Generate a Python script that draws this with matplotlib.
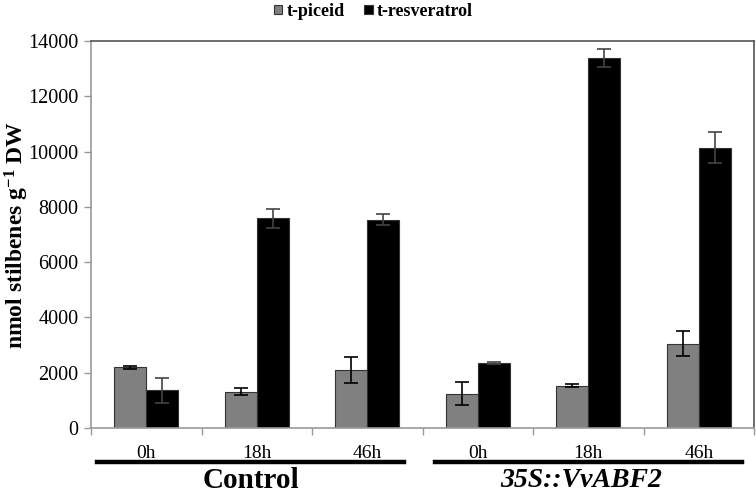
import matplotlib
matplotlib.use("Agg")
import matplotlib.pyplot as plt
import matplotlib.transforms as mtransforms
import numpy as np

timepoints = ["0h", "18h", "46h", "0h", "18h", "46h"]
groups = ["Control", "35S::VvABF2"]
series_names = ["t-piceid", "t-resveratrol"]
piceid = [2190, 1310, 2100, 1240, 1530, 3050]
piceid_err = [50, 130, 480, 410, 50, 450]
resveratrol = [1360, 7580, 7540, 2350, 13390, 10140]
resveratrol_err = [460, 335, 200, 30, 325, 570]
yticks = [0, 2000, 4000, 6000, 8000, 10000, 12000, 14000]

plt.rcParams['font.family'] = ['Liberation Serif', 'DejaVu Serif']
plt.rcParams['mathtext.fontset'] = 'custom'
plt.rcParams['mathtext.rm'] = 'Liberation Serif:bold'
plt.rcParams['mathtext.bf'] = 'Liberation Serif:bold'
plt.rcParams['mathtext.it'] = 'Liberation Serif:italic'
fig = plt.figure(figsize=(7.56, 4.94), dpi=100)
ax = fig.add_axes([0.1204, 0.1336, 0.877, 0.7834])

x = np.arange(len(timepoints))
w = 0.29
ax.bar(x - w/2, piceid, w, color="#808080", edgecolor="#333333", linewidth=0.8,
       yerr=piceid_err, capsize=5, error_kw=dict(elinewidth=1.2, capthick=1.2, ecolor="black"),
       label=series_names[0], zorder=2)
ax.bar(x + w/2, resveratrol, w, color="black", edgecolor="#333333", linewidth=0.8,
       yerr=resveratrol_err, capsize=5, error_kw=dict(elinewidth=1.2, capthick=1.2, ecolor="#444444"),
       label=series_names[1], zorder=2)

ax.set_xlim(-0.5, 5.5)
ax.set_ylim(0, 14000)
ax.set_yticks(yticks)
ax.set_yticklabels([str(v) for v in yticks], fontsize=14.5)
ax.set_xticks(x)
ax.set_xticklabels(timepoints, fontsize=14)
ax.set_xticks(np.arange(-0.5, 6.0, 1.0), minor=True)
ax.tick_params(axis='x', which='major', length=0, pad=12)
ax.tick_params(axis='x', which='minor', length=5, color="#999999", width=1)
ax.tick_params(axis='y', length=5, color="#999999", width=1, pad=4)
for s in ax.spines.values():
    s.set_color("#999999")
    s.set_linewidth(1.2)
ax.spines['top'].set_color("#555555")
ax.spines['right'].set_color("#555555")

ax.set_ylabel("nmol stilbenes g$^{-1}$ DW", fontsize=17, fontweight="bold")
ax.yaxis.set_label_coords(-0.09, 0.5)

trans = mtransforms.blended_transform_factory(ax.transData, fig.transFigure)
line_y = 1 - 461.7/494
ax.plot([-0.45, 2.33], [line_y, line_y], color="black", lw=3.2, transform=trans, clip_on=False)
ax.plot([2.61, 5.39], [line_y, line_y], color="black", lw=3.2, transform=trans, clip_on=False)
text_y = 1 - 480/494
ax.text(0.95, text_y, groups[0], transform=trans, ha="center", va="center",
        fontsize=21, fontweight="bold")
ax.text(3.94, text_y, groups[1], transform=trans, ha="center", va="center",
        fontsize=20, fontweight="bold", fontstyle="italic")

leg = fig.legend(loc="center", bbox_to_anchor=(0.494, 0.977), ncol=2, frameon=False,
                 prop=dict(weight="bold", size=13), handlelength=0.45, handleheight=0.45,
                 handletextpad=0.22, columnspacing=1.1, borderpad=0, borderaxespad=0)

fig.savefig("out.png", dpi=100)
